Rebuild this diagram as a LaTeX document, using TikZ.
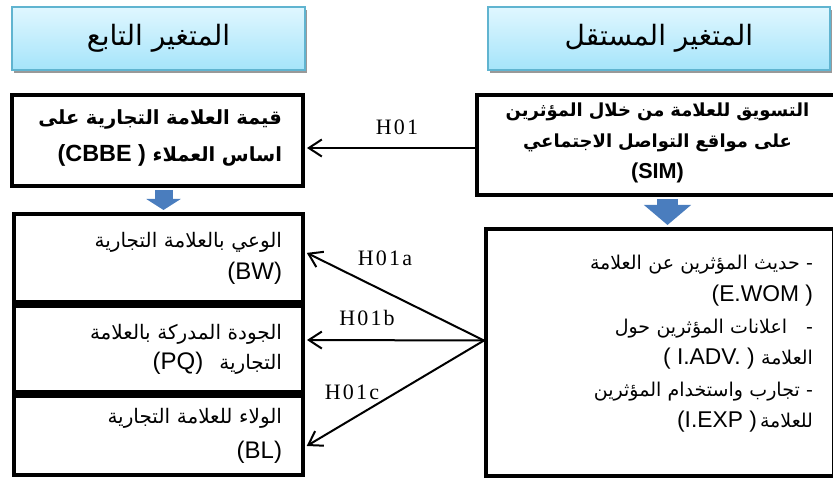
\documentclass[tikz,border=0pt]{standalone}
\usepackage{fontspec}
\setmainfont{Liberation Sans}
\newfontfamily\arabicfont[Script=Arabic]{DejaVu Sans}
\newfontfamily\latinfont[Scale=1.2]{Liberation Sans}
\newfontfamily\hypfont[LetterSpace=10]{Liberation Serif}
\TeXXeTstate=1
\usetikzlibrary{arrows.meta, positioning, shadows}

\definecolor{headtop}{RGB}{224,247,255}
\definecolor{headbot}{RGB}{165,228,250}
\definecolor{headline}{RGB}{96,180,208}
\definecolor{blockblue}{RGB}{74,125,190}

\newcommand{\artxt}[1]{{\arabicfont\beginR #1\endR}}
\newcommand{\lattxt}[1]{\beginL{\latinfont #1}\endL}

\begin{document}
\begin{tikzpicture}[x=1pt, y=-1pt,
    headbox/.style={draw=headline, line width=1.5pt, top color=headtop, bottom color=headbot,
        drop shadow={shadow xshift=2pt, shadow yshift=-3pt, opacity=0.4, fill=black},
        minimum height=63pt, font=\fontsize{28}{32}\selectfont},
    varbox/.style={draw, line width=4pt, fill=white, align=right, inner xsep=21pt, inner ysep=0pt},
    boldtext/.style={font=\bfseries\fontsize{19.5}{37}\selectfont},
    plaintext/.style={font=\fontsize{20}{32}\selectfont},
    hyp/.style={font=\hypfont\fontsize{22}{24}\selectfont},
    link/.style={line width=2pt, -{Straight Barb[length=13pt, width=17pt]}, shorten >=2pt},
    flow/.style={draw=blockblue, shorten <=2pt, shorten >=2pt}
]
    \useasboundingbox (0,0) rectangle (833,478);

    % Column headers
    \node[headbox, minimum width=293pt] (dephead) at (158.5,38.5) {\artxt{المتغير التابع}};
    \node[headbox, minimum width=342pt] (indhead) at (659,38.5) {\artxt{المتغير المستقل}};

    % Dependent variable
    \node[varbox, boldtext, minimum width=291pt, minimum height=91pt, text width=249pt] (cbbe) at (157.5,140.5)
        {\artxt{قيمة العلامة التجارية على}\\ \artxt{اساس العملاء \lattxt{(CBBE )}}\\[-27pt]\mbox{}};
    \node[varbox, plaintext, minimum width=289pt, minimum height=88pt, text width=247pt] (bw) at (158.5,258)
        {\artxt{الوعي بالعلامة التجارية}\\ \lattxt{(BW)}};
    \node[varbox, plaintext, minimum width=289pt, minimum height=86pt, text width=247pt,
        font=\fontsize{20}{30}\selectfont] (pq) at (158.5,349)
        {\artxt{الجودة المدركة بالعلامة}\\ \artxt{التجارية\hspace{16pt}\lattxt{(PQ)}}};
    \node[varbox, plaintext, minimum width=289pt, minimum height=79pt, text width=247pt,
        font=\fontsize{20}{35}\selectfont] (bl) at (158.5,435.5)
        {\artxt{الولاء للعلامة التجارية}\\ \lattxt{(BL)}};

    % Independent variable
    \node[varbox, boldtext, align=center, minimum width=345pt, minimum height=100pt, text width=320pt,
        font=\bfseries\fontsize{18}{31}\selectfont] (sim) at (657.5,145)
        {\artxt{التسويق للعلامة من خلال المؤثرين}\\ \artxt{على مواقع التواصل الاجتماعي}\\ \lattxt{(SIM)}\\[-22pt]\mbox{}};
    \node[varbox, plaintext, minimum width=340pt, minimum height=247pt, text width=306pt,
        font=\fontsize{19}{31.6}\selectfont] (infl) at (660,352.5)
        {\artxt{- حديث المؤثرين عن العلامة}\\ \lattxt{(E.WOM )}\\
         \artxt{-\ \ \ اعلانات المؤثرين حول}\\ \artxt{العلامة \lattxt{( I.ADV. )}}\\
         \artxt{- تجارب واستخدام المؤثرين}\\ \artxt{للعلامة\,\lattxt{(I.EXP )}}\\[-10pt]\mbox{}};

    % Blue flow arrows
    \draw[flow, line width=18pt, -{Triangle[length=11pt, width=34pt]}]
        ([xshift=6pt]cbbe.south) -- ([xshift=6pt]cbbe.south |- bw.north);
    \draw[flow, line width=21pt, -{Triangle[length=20pt, width=46pt]}]
        ([xshift=10pt]sim.south) -- ([xshift=10pt]sim.south |- infl.north);

    % Hypotheses
    \coordinate (h01start) at ([yshift=-3pt]sim.west);
    \coordinate (apex) at ([yshift=12pt]infl.west);
    \draw[link] (h01start) -- (h01start -| cbbe.east);
    \draw[link] (apex) -- ([yshift=6pt]bw.east);
    \draw[link] (apex) -- ([yshift=9pt]pq.east);
    \draw[link] (apex) -- ([yshift=-11.5pt]bl.east);

    \node[hyp] (h01) at (397,127) {H01};
    \node[hyp] (h01a) at (385,258) {H01a};
    \node[hyp] (h01b) at (367,318) {H01b};
    \node[hyp] (h01c) at (352,392) {H01c};
\end{tikzpicture}
\end{document}
